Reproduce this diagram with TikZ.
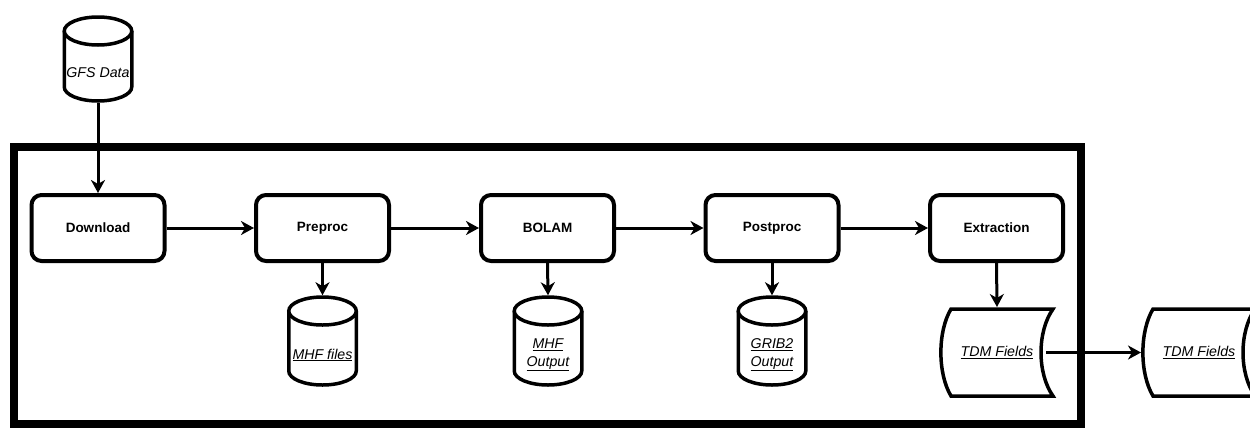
\documentclass[tikz,border=0pt]{standalone}
\usepackage{fontspec}
\setmainfont{Liberation Sans}
\usetikzlibrary{arrows.meta}
\tikzset{
  procbox/.style={draw=black, line width=4pt, rounded corners=10pt, fill=white,
    minimum width=133pt, minimum height=66pt, inner sep=0pt,
    font=\fontsize{13.5}{15}\selectfont\bfseries},
  cylline/.style={draw=black, line width=3.5pt, fill=white},
  cyltext/.style={font=\fontsize{14.2}{16.5}\selectfont\itshape, align=center, inner sep=0pt},
  flow/.style={line width=3pt, -{Stealth[length=13pt,width=14pt,inset=4pt]}},
  frameline/.style={draw=black, line width=8pt}
}
% name, cx, cy (screen), path height, text
\newcommand\dbcyl[5]{%
  \node[minimum width=67.5pt, minimum height=#4pt, inner sep=0pt, outer sep=1.75pt] (#1) at (#2,-#3) {};
  \draw[cylline] ({#2-33.75},{-#3+#4/2-14}) -- ({#2-33.75},{-#3-#4/2+14})
     arc[start angle=180,end angle=360,x radius=33.75,y radius=14]
     -- ({#2+33.75},{-#3+#4/2-14});
  \draw[cylline] (#2,{-#3+#4/2-14}) ellipse[x radius=33.75, y radius=14];
  \node[cyltext] (#1-t) at (#2,{-#3-14}) {#5};
}
% name, cx, cy (screen), text
\newcommand\storeddata[4]{%
  \node[minimum width=116pt, minimum height=91pt, inner sep=0pt, outer sep=0pt] (#1) at (#2,-#3) {};
  \draw[cylline] ({#2-46},{-#3+43.5}) -- ({#2+56},{-#3+43.5})
     .. controls ({#2+40},{-#3+21}) and ({#2+40},{-#3-21}) .. ({#2+56},{-#3-43.5})
     -- ({#2-46},{-#3-43.5})
     .. controls ({#2-59.5},{-#3-21}) and ({#2-59.5},{-#3+21}) .. ({#2-46},{-#3+43.5}) -- cycle;
  \node[cyltext] (#1-t) at (#2,-#3) {#4};
}
\begin{document}
\begin{tikzpicture}[x=1pt,y=1pt]
\useasboundingbox (0,0) rectangle (1250,-429);
\clip (0,0) rectangle (1250,-429);
\fill[white] (0,0) rectangle (1250,-429);

% outer frame
\draw[frameline] (14,-147) rectangle (1081,-424);

% process boxes
\node[procbox] (download) at (98,-228) {Download};
\node[procbox] (preproc) at (322.5,-228) {Preproc};
\node[procbox] (bolam) at (547.5,-228) {BOLAM};
\node[procbox] (postproc) at (772,-228) {Postproc};
\node[procbox] (extraction) at (996.5,-228) {Extraction};

% data stores
\dbcyl{gfs}{98}{59}{84}{GFS Data}
\dbcyl{mhf}{322.5}{341}{88}{\underline{MHF files}}
\dbcyl{mhfout}{548}{341}{88}{\underline{MHF}\\[1pt]\underline{Output}}
\dbcyl{grib}{772}{341}{88}{\underline{GRIB2}\\[1pt]\underline{Output}}

\storeddata{tdma}{997}{352.5}{\underline{TDM Fields}}
\storeddata{tdmb}{1199}{352.5}{\underline{TDM Fields}}

% connectors
\draw[flow] (gfs.south) -- (download.north);
\draw[flow] (download.east) -- (preproc.west);
\draw[flow] (preproc.east) -- (bolam.west);
\draw[flow] (bolam.east) -- (postproc.west);
\draw[flow] (postproc.east) -- (extraction.west);
\draw[flow] (preproc.south) -- (mhf.north);
\draw[flow] (bolam.south) -- (mhfout.north);
\draw[flow] (postproc.south) -- (grib.north);
\draw[flow] (extraction.south) -- (tdma.north);
\draw[flow] ([xshift=-9pt]tdma.east) -- (tdmb.west);
\end{tikzpicture}
\end{document}
